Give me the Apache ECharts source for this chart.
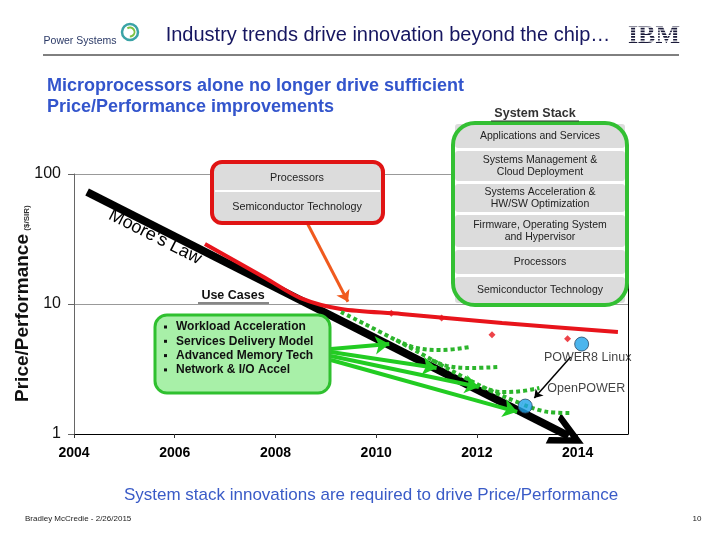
<!DOCTYPE html>
<html><head><meta charset="utf-8">
<script src="https://cdn.jsdelivr.net/npm/echarts@6/dist/echarts.min.js"></script>
<style>html,body{margin:0;padding:0;background:#fff}#c{width:720px;height:540px}</style>
</head><body><div id="c"></div>
<script>
// ---- data ----
const xTicks = [2004, 2006, 2008, 2010, 2012, 2014];
const yTicks = [1, 10, 100];
const mooreX = [2004.26, 2013.82];
const mooreY = [72.7, 0.965];
const redX = [2006.6, 2007.8, 2008.5, 2009.3, 2010.5, 2012.5, 2014.8];
const redY = [28.9, 15.85, 11.1, 9.15, 8.38, 7.14, 6.09];
const redDotX = [2010.3, 2011.3, 2012.3, 2013.8];
const redDotY = [8.5, 7.8, 5.8, 5.4];
const dottedMainX = [2009.3, 2010.5, 2012.04, 2012.9];
const dottedMainY = [8.68, 5.01, 2.38, 1.70];
const dottedB1X = [2010.4, 2010.8, 2011.3, 2011.86];
const dottedB1Y = [5.29, 4.59, 4.43, 4.67];
const dottedB2X = [2011.1, 2011.4, 2011.9, 2012.46];
const dottedB2Y = [3.71, 3.34, 3.22, 3.28];
const dottedB3X = [2012.1, 2012.5, 2012.9, 2013.24];
const dottedB3Y = [2.30, 2.10, 2.14, 2.26];
const dottedB4X = [2012.94, 2013.4, 2013.84];
const dottedB4Y = [1.67, 1.48, 1.45];
const useArrowFromX = [2009.1, 2009.1, 2009.1, 2009.1];
const useArrowFromY = [4.51, 4.27, 3.98, 3.71];
const useArrowToX = [2010.26, 2011.2, 2012.04, 2012.8];
const useArrowToY = [4.92, 3.22, 2.30, 1.48];
const calloutX = [2008.64, 2009.44];
const calloutY = [41.2, 10.4];
const pointerX = [2013.86, 2013.14];
const pointerY = [3.91, 1.89];
const blueX = [2014.08, 2012.96];
const blueY = [4.92, 1.64];
const blueLabels = ['POWER8 Linux', 'OpenPOWER'];
const stackRows = ['Applications and Services', 'Systems Management &\nCloud Deployment', 'Systems Acceleration &\nHW/SW Optimization', 'Firmware, Operating System\nand Hypervisor', 'Processors', 'Semiconductor Technology'];
const chipRows = ['Processors', 'Semiconductor Technology'];
const useCases = ['Workload Acceleration', 'Services Delivery Model', 'Advanced Memory Tech', 'Network & I/O Accel'];

// ---- build ----
const FF = "'Liberation Sans', Arial, sans-serif";
const zip = (xs, ys) => xs.map((x, i) => [x, ys[i]]);
const chart = echarts.init(document.getElementById('c'), null, {renderer: 'canvas'});

function dotted(xs, ys) {
  return {type: 'line', data: zip(xs, ys), showSymbol: false, smooth: 0.4, z: 4, silent: true,
    lineStyle: {color: '#2cb52c', width: 4, type: [4, 3]}};
}

const chevron = 'path://M0,20 L10,0 L20,20 L15.8,20 L10,8.5 L4.2,20 Z';

const graphics = [];
const T = (text, x, y, o) => graphics.push({type: 'text', z: 100, x, y, style: Object.assign({text, fontFamily: FF, fontSize: 12, fill: '#111', textAlign: 'center', textVerticalAlign: 'middle'}, o || {})});

// header
T('Industry trends drive innovation beyond the chip…', 388, 35, {fontSize: 20, fill: '#161660'});
graphics.push({type: 'line', z: 100, shape: {x1: 43, y1: 55, x2: 679, y2: 55}, style: {stroke: '#000', lineWidth: 1}});
T('Power Systems', 80, 41, {fontSize: 10.5, fill: '#2b3a67'});
graphics.push({type: 'circle', z: 100, shape: {cx: 130, cy: 32, r: 8}, style: {fill: 'none', stroke: '#3aa3a6', lineWidth: 2.5}});
graphics.push({type: 'arc', z: 101, shape: {cx: 130, cy: 32, r: 4.5, startAngle: -2.2, endAngle: 1.6}, style: {fill: 'none', stroke: '#7cc242', lineWidth: 2}});
T('IBM', 654, 36, {fontSize: 26, fontWeight: 'bold', fontFamily: "'Liberation Serif', serif", fill: '#1b1b3a'});
for (let i = 0; i < 7; i++) graphics.push({type: 'rect', z: 102, shape: {x: 624, y: 26.6 + i * 2.8, width: 60, height: 1.1}, style: {fill: '#fff'}});

// subtitle
T('Microprocessors alone no longer drive sufficient', 47, 86, {fontSize: 18, fontWeight: 'bold', fill: '#3355cc', textAlign: 'left'});
T('Price/Performance improvements', 47, 107, {fontSize: 18, fontWeight: 'bold', fill: '#3355cc', textAlign: 'left'});

// axis name
graphics.push({type: 'text', z: 100, x: 23, y: 318, rotation: Math.PI / 2, style: {text: 'Price/Performance', fontFamily: FF, fontSize: 19, fontWeight: 'bold', fill: '#111', textAlign: 'center', textVerticalAlign: 'middle'}});
graphics.push({type: 'text', z: 100, x: 27, y: 218, rotation: Math.PI / 2, style: {text: '($/SIR)', fontFamily: FF, fontSize: 8, fontWeight: 'bold', fill: '#333', textAlign: 'center', textVerticalAlign: 'middle'}});

// Moore's law text
graphics.push({type: 'text', z: 100, x: 155, y: 237, rotation: -0.47, style: {text: "Moore's Law", fontFamily: FF, fontSize: 18, fill: '#000', textAlign: 'center', textVerticalAlign: 'middle'}});

// chip box (red)
graphics.push({type: 'rect', z: 90, shape: {x: 212, y: 162, width: 171, height: 61, r: 10}, style: {fill: '#dcdcdc', stroke: '#e01414', lineWidth: 4}});
graphics.push({type: 'line', z: 91, shape: {x1: 215, y1: 191, x2: 380, y2: 191}, style: {stroke: '#fff', lineWidth: 2}});
T(chipRows[0], 297, 178, {fontSize: 10.8, fill: '#222'});
T(chipRows[1], 297, 207, {fontSize: 10.8, fill: '#222'});

// system stack
T('System Stack', 535, 114, {fontSize: 12.5, fontWeight: 'bold', fill: '#333'});
graphics.push({type: 'line', z: 100, shape: {x1: 491, y1: 121, x2: 579, y2: 121}, style: {stroke: '#333', lineWidth: 1.2}});
const rowTop = [124, 151, 184, 215, 250, 277];
const rowH = [24, 30, 28, 32, 24, 26];
stackRows.forEach((t, i) => {
  graphics.push({type: 'rect', z: 90, shape: {x: 455, y: rowTop[i], width: 170, height: rowH[i], r: 3}, style: {fill: '#dcdcdc'}});
  T(t, 540, rowTop[i] + rowH[i] / 2, {fontSize: 10.5, fill: '#222', lineHeight: 12.5});
});
graphics.push({type: 'rect', z: 95, shape: {x: 453, y: 123, width: 174, height: 182, r: 22}, style: {fill: 'none', stroke: '#33c033', lineWidth: 4}});

// use cases
T('Use Cases', 233, 296, {fontSize: 12.5, fontWeight: 'bold', fill: '#111'});
graphics.push({type: 'line', z: 100, shape: {x1: 198, y1: 303, x2: 269, y2: 303}, style: {stroke: '#111', lineWidth: 1.2}});
graphics.push({type: 'rect', z: 90, shape: {x: 155, y: 315, width: 175, height: 78, r: 12}, style: {fill: '#a8f0a8', stroke: '#2fc02f', lineWidth: 3}});
useCases.forEach((t, i) => {
  const y = 327 + i * 14.3;
  graphics.push({type: 'rect', z: 100, shape: {x: 164, y: y - 1.5, width: 3, height: 3}, style: {fill: '#111'}});
  T(t, 176, y, {fontSize: 12, fontWeight: 'bold', fill: '#111', textAlign: 'left'});
});

// footer
T('System stack innovations are required to drive Price/Performance', 371, 495, {fontSize: 17, fill: '#3a5bc7'});
T('Bradley McCredie - 2/26/2015', 25, 519, {fontSize: 8, fill: '#222', textAlign: 'left'});
T('10', 697, 519, {fontSize: 8, fill: '#222'});

const option = {
  animation: false,
  backgroundColor: '#fff',
  grid: {left: 74, right: 92, top: 174, bottom: 106},
  xAxis: {type: 'value', min: 2004, max: 2015, interval: 2,
    axisLine: {lineStyle: {color: '#000', width: 1}},
    axisTick: {show: true, length: 4, lineStyle: {color: '#333'}, customValues: xTicks},
    axisLabel: {customValues: xTicks, formatter: v => String(v), fontFamily: FF, fontSize: 14, fontWeight: 'bold', color: '#000', margin: 12},
    splitLine: {show: false}},
  yAxis: [
    {type: 'log', logBase: 10, min: 1, max: 100,
      axisLine: {show: true, lineStyle: {color: '#666'}},
      axisTick: {show: true, length: 6, lineStyle: {color: '#666'}},
      axisLabel: {fontFamily: FF, fontSize: 16, color: '#111', margin: 13},
      splitLine: {show: true, lineStyle: {color: '#999', width: 1}}},
    {type: 'log', logBase: 10, min: 1, max: 100, position: 'right',
      axisLine: {show: true, lineStyle: {color: '#000'}},
      axisTick: {show: false}, axisLabel: {show: false}, splitLine: {show: false}}
  ],
  series: [
    {type: 'lines', coordinateSystem: 'cartesian2d', z: 2, silent: true, clip: false,
      symbol: ['none', chevron], symbolSize: [40, 34],
      lineStyle: {color: '#000', width: 8, opacity: 1, cap: 'butt'},
      data: [{coords: zip(mooreX, mooreY)}]},
    {type: 'line', data: zip(redX, redY), showSymbol: false, smooth: 0.3, z: 3, silent: true,
      lineStyle: {color: '#e8141b', width: 4}},
    {type: 'scatter', data: zip(redDotX, redDotY), symbol: 'diamond', symbolSize: 7, z: 3,
      itemStyle: {color: '#e8141b'}},
    dotted(dottedMainX, dottedMainY),
    dotted(dottedB1X, dottedB1Y),
    dotted(dottedB2X, dottedB2Y),
    dotted(dottedB3X, dottedB3Y),
    dotted(dottedB4X, dottedB4Y),
    {type: 'lines', coordinateSystem: 'cartesian2d', z: 5, silent: true, clip: false,
      symbol: ['none', 'arrow'], symbolSize: 14,
      lineStyle: {color: '#22cc22', width: 4, opacity: 1},
      data: useArrowFromX.map((x, i) => ({coords: [[x, useArrowFromY[i]], [useArrowToX[i], useArrowToY[i]]]}))},
    {type: 'lines', coordinateSystem: 'cartesian2d', z: 5, silent: true, clip: false,
      symbol: ['none', 'arrow'], symbolSize: 11,
      lineStyle: {color: '#f05a1e', width: 3, opacity: 1},
      data: [{coords: zip(calloutX, calloutY)}]},
    {type: 'lines', coordinateSystem: 'cartesian2d', z: 6, silent: true, clip: false,
      symbol: ['none', 'arrow'], symbolSize: 8,
      lineStyle: {color: '#000', width: 1.5, opacity: 1},
      data: [{coords: zip(pointerX, pointerY)}]},
    {type: 'scatter', z: 7, symbol: 'circle', symbolSize: 14,
      itemStyle: {color: '#1ea3e8', borderColor: '#2a4a66', borderWidth: 1},
      data: blueX.map((x, i) => ({value: [x, blueY[i]], name: blueLabels[i],
        label: {show: true, formatter: blueLabels[i], position: 'inside',
          offset: i === 0 ? [6, 14] : [61, -18],
          fontFamily: FF, fontSize: 12.5, color: '#111'}}))}
  ],
  graphic: graphics
};
chart.setOption(option);
</script>
</body></html>
